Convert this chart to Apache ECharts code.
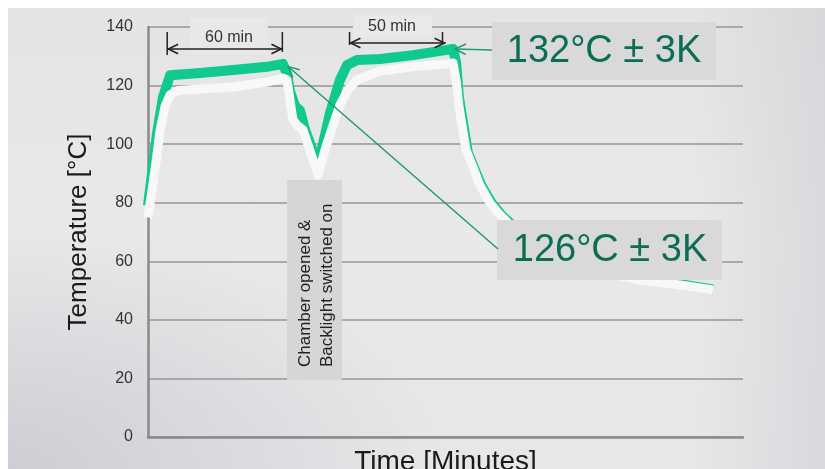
<!DOCTYPE html>
<html>
<head>
<meta charset="utf-8">
<script src="https://cdn.jsdelivr.net/npm/echarts@6/dist/echarts.min.js"></script>
<style>
  html, body { margin: 0; padding: 0; background: #fff; }
  #bg {
    position: absolute; left: 8px; top: 8px; width: 817px; height: 461px;
    background:
      radial-gradient(ellipse at 0% 100%, rgba(200,202,208,0.85) 0%, rgba(230,230,230,0) 38%),
      linear-gradient(to right, rgba(230,230,230,0) 84%, rgba(208,208,214,0.6) 100%),
      linear-gradient(to bottom, #e4e4e4 0%, #e9e9e9 50%, #e7e7e9 100%);
  }
  #chart { position: absolute; left: 0; top: 0; width: 825px; height: 469px; }
</style>
</head>
<body>
<div id="bg"></div>
<div id="chart"></div>
<script>
// time in minutes, temperature in °C
const timeGreen = [0, 4.7, 7.8, 11.5, 27.1, 44.3, 62.0, 70.3, 72.4, 74.0, 76.6, 79.2, 81.8, 85.4, 89.1,
  94.8, 100.0, 103.7, 108.9, 120.9, 138.1, 155.8, 158.9, 160.5, 162.0, 164.1, 166.7, 169.8, 174.0,
  179.2, 184.4, 189.6, 199.0, 214.7, 235.5, 256.3, 277.2, 294.4];
const tempGreen = [79, 103.8, 116, 123.5, 124.3, 125.3, 126.4, 127.4, 124, 118, 113, 111.5, 105, 98.5, 94,
  110.6, 121.9, 127, 128.7, 129.1, 130.4, 132.2, 132.5, 128, 116, 107.5, 97, 92, 85.5,
  79.8, 75.6, 72.5, 66.2, 61, 56.9, 54, 52.2, 50.4];

const timeWhite = [0, 3.6, 6.3, 8.9, 11.5, 15.1, 27.1, 44.3, 62.0, 70.3, 72.4, 74.0, 75.5, 77.6, 80.8,
  83.4, 86.0, 88.6, 92.2, 96.4, 100.0, 104.2, 108.9, 120.9, 138.1, 155.8, 158.9, 160.5, 162.0, 163.6,
  165.7, 168.8, 172.9, 178.2, 183.4, 188.6, 199.0, 214.7, 235.5, 256.3, 277.2, 294.4];
const tempWhite = [75, 91, 104.8, 113, 116.8, 118.2, 118.8, 119.5, 121.2, 122.6, 121.9, 115, 108.3, 106.5, 104.8,
  99.7, 94.6, 89.5, 98, 106.5, 113.4, 118.5, 122, 125, 126.4, 127.4, 127.7, 122, 113, 106.5,
  98, 92.9, 86, 79.9, 75.8, 72.4, 65.6, 60.4, 56.4, 53.6, 51.9, 50.2];

// annotation anchors (data coordinates)
const span60 = [10, 70];
const span50 = [105, 155];
const tip132 = [158.9, 132.5];
const tip126 = [73, 126.5];

const font = "'Liberation Sans', Arial, sans-serif";
const green = '#10c98f';
const noteGreen = '#0c6d55';
const arrowGreen = '#1e9a74';

const chart = echarts.init(document.getElementById('chart'));

chart.setOption({
  animation: false,
  backgroundColor: 'transparent',
  grid: { left: 148, right: 82, top: 27, bottom: 32, outerBoundsMode: 'none', containLabel: false },
  xAxis: {
    type: 'value', min: 0, max: 310,
    name: 'Time [Minutes]', nameLocation: 'middle', nameGap: 11,
    nameTextStyle: { fontSize: 28, color: '#1a1a1a', fontFamily: font },
    axisLine: { show: true, lineStyle: { color: '#8a8a8a', width: 2.5 } },
    axisTick: { show: false }, axisLabel: { show: false }, splitLine: { show: false }
  },
  yAxis: {
    type: 'value', min: 0, max: 140, interval: 20,
    name: 'Temperature [°C]', nameLocation: 'middle', nameGap: 56, nameRotate: 90,
    nameTextStyle: { fontSize: 26, color: '#1a1a1a', fontFamily: font },
    axisLine: { show: true, lineStyle: { color: '#8a8a8a', width: 2.5 } },
    axisTick: { show: false },
    axisLabel: { fontSize: 16, color: '#333', fontFamily: font, margin: 15 },
    splitLine: { lineStyle: { color: '#969696', width: 1.5 } }
  },
  series: [
    {
      type: 'line', data: timeGreen.map((t, i) => [t, tempGreen[i]]),
      showSymbol: false, lineStyle: { color: green, width: 10, join: 'round' }, z: 2
    },
    {
      type: 'line', data: timeWhite.map((t, i) => [t, tempWhite[i]]),
      showSymbol: false, lineStyle: { color: '#f8f8f8', width: 9, join: 'round' }, z: 3
    }
  ]
});

const px = (p) => chart.convertToPixel({ xAxisIndex: 0, yAxisIndex: 0 }, p);

function head(tx, ty, fx, fy, color, size) {
  const a = Math.atan2(ty - fy, tx - fx);
  const p1 = [tx - size * Math.cos(a - 0.45), ty - size * Math.sin(a - 0.45)];
  const p2 = [tx - size * Math.cos(a + 0.45), ty - size * Math.sin(a + 0.45)];
  return { type: 'polyline', z: 120, shape: { points: [p1, [tx, ty], p2] }, style: { stroke: color, lineWidth: 1.5, fill: null } };
}
function seg(x1, y1, x2, y2, color, w) {
  return { type: 'line', z: 120, shape: { x1, y1, x2, y2 }, style: { stroke: color, lineWidth: w || 1.5 } };
}
function box(x, y, w, h, fill) {
  return { type: 'rect', z: 110, shape: { x, y, width: w, height: h }, style: { fill } };
}
function label(x, y, text, size, color, extra) {
  return Object.assign({ type: 'text', z: 130, x, y,
    style: { text, fontSize: size, fontFamily: font, fill: color, align: 'center', verticalAlign: 'middle' } }, extra || {});
}

const g = [];
// 60 min bracket
const a60 = px([span60[0], 0])[0], b60 = px([span60[1], 0])[0];
g.push(seg(a60, 49, b60, 49, '#222'));
g.push(head(a60 + 1, 49, b60, 49, '#222', 11), head(b60 - 1, 49, a60, 49, '#222', 11));
g.push(seg(a60, 32, a60, 55, '#222'), seg(b60, 32, b60, 52, '#222'));
g.push(box(190, 18, 78, 36, '#e8e8e8'));
g.push(label(229, 38, '60 min', 16, '#333'));
// 50 min bracket
const a50 = px([span50[0], 0])[0], b50 = px([span50[1], 0])[0];
g.push(seg(a50, 43, b50, 43, '#222'));
g.push(head(a50 + 1, 43, b50, 43, '#222', 11), head(b50 - 1, 43, a50, 43, '#222', 11));
g.push(seg(a50, 32, a50, 45, '#222'), seg(b50 - 3, 32, b50 - 3, 42, '#222'));
g.push(box(353, 15, 79, 22, '#e9e9e9'));
g.push(label(392, 27, '50 min', 16, '#333'));
// 132 °C note
const t132 = px(tip132);
g.push(seg(492, 50, t132[0] + 2, t132[1], arrowGreen));
g.push(head(t132[0] + 2, t132[1], 492, 50, arrowGreen, 12));
g.push(box(492, 22, 224, 58, '#d9d9d9'));
g.push(label(604, 52, '132°C ± 3K', 38, noteGreen));
// 126 °C note
const t126 = px(tip126);
g.push(seg(498, 249, t126[0], t126[1], arrowGreen));
g.push(head(t126[0], t126[1], 498, 249, arrowGreen, 12));
g.push(box(497, 220, 225, 60, '#d9d9d9'));
g.push(label(610, 251, '126°C ± 3K', 38, noteGreen));
// chamber note
g.push(box(287, 180, 55, 200, '#d6d6d6'));
g.push(label(316, 367, 'Chamber opened &\nBacklight switched on', 17, '#222',
  { rotation: Math.PI / 2 }));
g[g.length - 1].style.align = 'left';
g[g.length - 1].style.lineHeight = 22;

chart.setOption({ graphic: g });
</script>
</body>
</html>
